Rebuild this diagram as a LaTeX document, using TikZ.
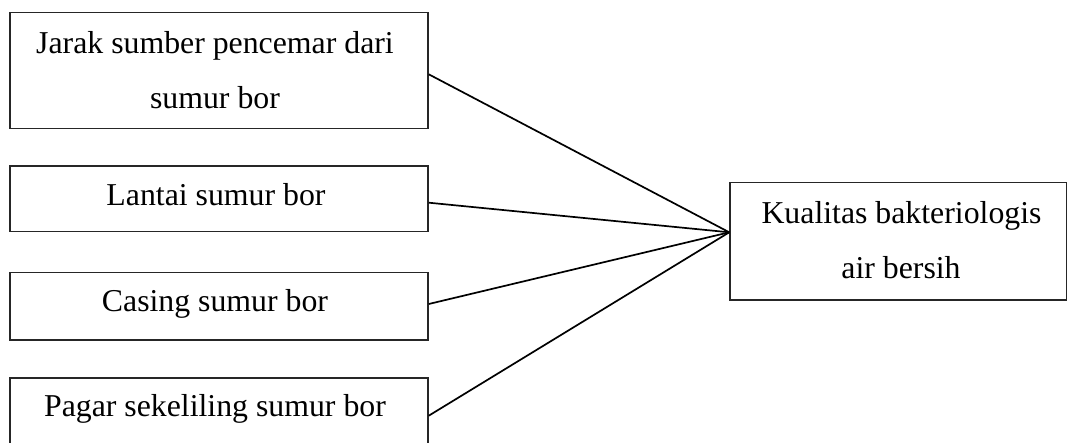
\documentclass[tikz,border=0pt]{standalone}
\usepackage{fontspec}
\setmainfont{Liberation Serif}
\begin{document}
\begin{tikzpicture}[x=1pt,y=-1pt,
  box/.style={draw=black!85, line width=1.5pt, inner sep=0pt, minimum width=418pt},
  txt/.style={anchor=base, inner sep=0pt, font=\fontsize{31.8}{38}\selectfont},
  conn/.style={draw=black, line width=1.7pt}]
\clip (0,0) rectangle (1068,443);
\fill[white] (0,0) rectangle (1068,443);
% left boxes
\node[box, minimum height=115.6pt] (b1) at (219,70.5) {};
\node[box, minimum height=65.7pt] (b2) at (219,198.85) {};
\node[box, minimum height=67.7pt] (b3) at (219,306.15) {};
\node[box, minimum height=80pt] (b4) at (219,418) {};
% right box
\node[box, minimum width=336.7pt, minimum height=117.3pt] (k) at (898.35,241.35) {};
% texts
\node[txt] (t1a) at (215,53.3) {Jarak sumber pencemar dari};
\node[txt] (t1b) at (215,108.3) {sumur bor};
\node[txt] (t2) at (216,206) {Lantai sumur bor};
\node[txt] (t3) at (215,312) {Casing sumur bor};
\node[txt] (t4) at (215,417) {Pagar sekeliling sumur bor};
\node[txt] (tka) at (901.5,223.3) {Kualitas bakteriologis};
\node[txt] (tkb) at (901,278.3) {air bersih};
% connectors
\coordinate (m) at (730,232.3);
\draw[conn] (b1.east |- 0,74.3) -- (k.west |- m);
\draw[conn] (b2.east |- 0,202.7) -- (k.west |- m);
\draw[conn] (b3.east |- 0,304) -- (k.west |- m);
\draw[conn] (b4.east |- 0,415.7) -- (k.west |- m);
\end{tikzpicture}
\end{document}
